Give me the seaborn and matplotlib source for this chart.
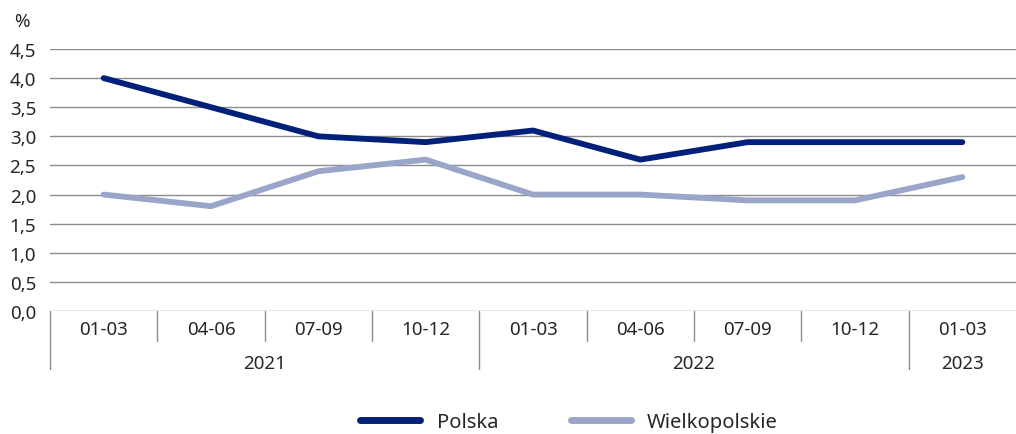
"""Polska vs Wielkopolskie quarterly line chart with two-level category axis."""

import matplotlib.pyplot as plt
import numpy as np
import pandas as pd
import seaborn as sns

quarters = ["01-03", "04-06", "07-09", "10-12", "01-03", "04-06", "07-09", "10-12", "01-03"]
years = ["2021", "2022", "2023"]
year_spans = [(0, 3), (4, 7), (8, 8)]
polska = [4.0, 3.5, 3.0, 2.9, 3.1, 2.6, 2.9, 2.9, 2.9]
wielkopolskie = [2.0, 1.8, 2.4, 2.6, 2.0, 2.0, 1.9, 1.9, 2.3]
yticks = np.arange(0, 4.51, 0.5)

colors = {"Polska": "#00207a", "Wielkopolskie": "#9aa6c9"}

df = pd.DataFrame({
    "pos": list(range(len(quarters))) * 2,
    "value": polska + wielkopolskie,
    "series": ["Polska"] * len(polska) + ["Wielkopolskie"] * len(wielkopolskie),
})

sns.set_style("white")
plt.rcParams["font.family"] = ["Noto Sans", "DejaVu Sans"]
FS = 13.5

fig = plt.figure(figsize=(10.16, 4.35), dpi=100)
ax = fig.add_axes([50 / 1016, 1 - 312 / 435, 966 / 1016, 262 / 435])

sns.lineplot(data=df, x="pos", y="value", hue="series", palette=colors,
             linewidth=4.2, ax=ax, legend=False, solid_capstyle="round")

ax.set_xlim(-0.5, len(quarters) - 0.5)
ax.set_ylim(0, 4.5)
ax.set_yticks(yticks)
ax.set_yticklabels([f"{t:.1f}".replace(".", ",") for t in yticks], fontsize=FS)
ax.tick_params(axis="y", length=0, pad=10)
ax.set_xticks([])
ax.set_xlabel("")
ax.set_ylabel("")
for s in ax.spines.values():
    s.set_visible(False)
for t in yticks:
    ax.axhline(t, color="#8c8c8c", linewidth=1, zorder=0)

# two-level x axis
trans = ax.get_xaxis_transform()
for i, q in enumerate(quarters):
    ax.text(i, -0.069, q, transform=trans, ha="center", va="center", fontsize=FS)
long_seps = {-0.5} | {b[1] + 0.5 for b in year_spans[:-1]}
for k in range(len(quarters)):
    x = k - 0.5
    bottom = -0.221 if x in long_seps else -0.1145
    ax.plot([x, x], [0, bottom], transform=trans, color="#8c8c8c",
            linewidth=1, clip_on=False)
for y, (a, b) in zip(years, year_spans):
    ax.text((a + b) / 2, -0.198, y, transform=trans, ha="center", va="center", fontsize=FS)

fig.text(22 / 1016, 1 - 22 / 435, "%", ha="center", va="center", fontsize=FS)

handles = [plt.Line2D([0], [0], color=colors[k], linewidth=5, solid_capstyle="round", label=k)
           for k in colors]
fig.legend(handles=handles, loc="center", bbox_to_anchor=(0.56, 1 - 423 / 435), ncol=2,
           frameon=False, fontsize=14.5, handlelength=3.0, handletextpad=0.8, columnspacing=3.6)

fig.savefig("out.png", dpi=100)
